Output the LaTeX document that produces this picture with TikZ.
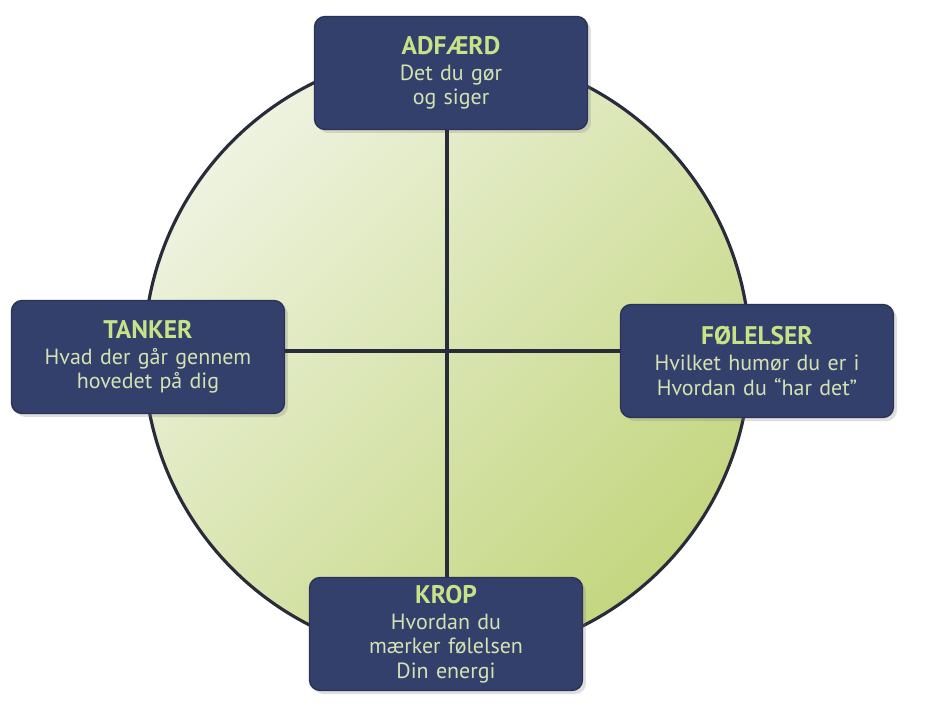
\documentclass[tikz,border=0pt]{standalone}
\usepackage{fontspec}
\setmainfont{PT Sans}
\usetikzlibrary{shadows}
\definecolor{boxblue}{RGB}{52,64,108}
\definecolor{titlegreen}{RGB}{200,226,135}
\definecolor{bodygreen}{RGB}{212,226,178}
\definecolor{linedark}{RGB}{40,44,58}
\definecolor{circin}{RGB}{238,243,224}
\definecolor{circmid}{RGB}{225,234,190}
\definecolor{circout}{RGB}{196,214,128}
\tikzset{
  infobox/.style={draw=boxblue!80!black, line width=0.8pt, fill=boxblue, rounded corners=6pt,
    minimum width=5.46cm, minimum height=2.26cm, inner sep=0pt,
    text width=5.3cm, align=center, text=bodygreen,
    font=\fontsize{12.5}{13.8}\selectfont,
    drop shadow={opacity=0.25, shadow xshift=2pt, shadow yshift=-2pt}},
  conn/.style={draw=linedark, line width=1.8pt},
}
\newcommand{\boxtitle}[1]{{\color{titlegreen}\bfseries\fontsize{14.5}{17}\selectfont #1}\\[1pt]}
\begin{document}
\begin{tikzpicture}[x=0.02cm, y=-0.02cm]
\useasboundingbox (0,0) rectangle (925,715);
\fill[white] (0,0) rectangle (925,715);
\coordinate (c) at (447,351);
\node[circle, minimum size=12.12cm, inner sep=0pt, draw=linedark, line width=1.8pt,
      top color=circin, middle color=circmid, bottom color=circout, shading angle=45] (circ) at (447,355) {};
\node[infobox] (adf) at (451,73) {\boxtitle{ADFÆRD}Det du gør\\og siger};
\node[infobox] (tank) at (148,357) {\boxtitle{TANKER}Hvad der går gennem\\hovedet på dig};
\node[infobox] (fol) at (757,361) {\boxtitle{FØLELSER}Hvilket humør du er i\\Hvordan du ``har det''};
\node[infobox] (krop) at (446,634) {\boxtitle{KROP}Hvordan du\\mærker følelsen\\Din energi};
\draw[conn] (adf.south -| c) -- (krop.north -| c);
\draw[conn] (tank.east |- c) -- (fol.west |- c);
\end{tikzpicture}
\end{document}
